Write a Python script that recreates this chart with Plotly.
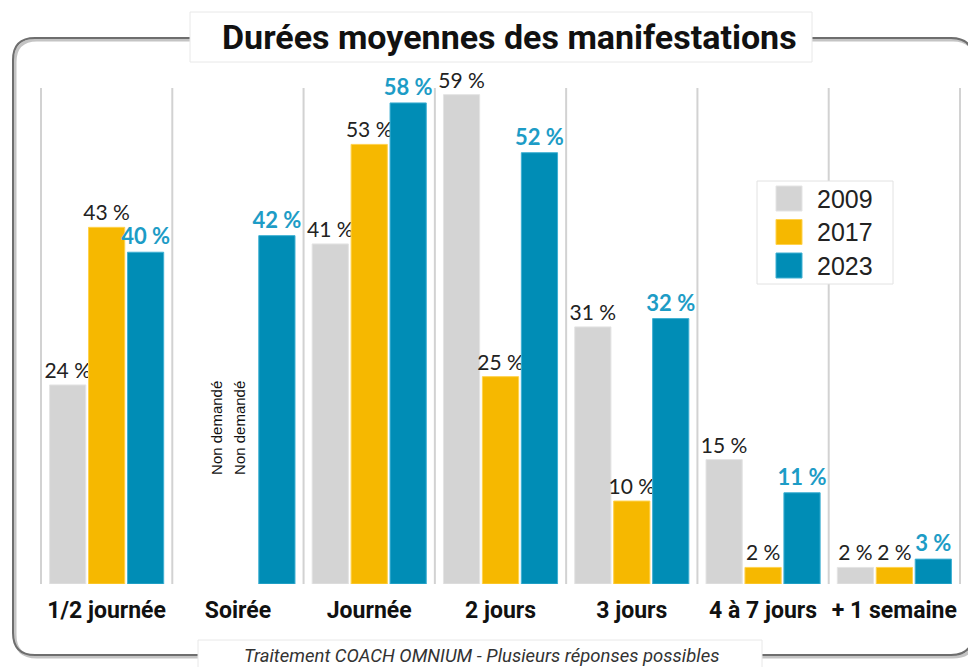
import plotly.graph_objects as go

categories = ["1/2 journée", "Soirée", "Journée", "2 jours", "3 jours", "4 à 7 jours", "+ 1 semaine"]
years = ["2009", "2017", "2023"]
v2009 = [24, None, 41, 59, 31, 15, 2]
v2017 = [43, None, 53, 25, 10, 2, 2]
v2023 = [40, 42, 58, 52, 32, 11, 3]
not_asked_label = "Non demandé"
title_text = "Durées moyennes des manifestations"
footer_text = "Traitement COACH OMNIUM - Plusieurs réponses possibles"

colors = {"2009": "#d4d4d4", "2017": "#f6b800", "2023": "#008db6"}
edge = {"2009": "#e4e4e4", "2017": "#ffd24d", "2023": "#3fb0d3"}
label_blue = "#1d9cc6"

W, H = 976, 667
OFF = 8  # page margin of the browser
# plot area in screen pixels: x 40..961, y 88..584
L, T = 40 - OFF, 88 - OFF
R = W - (961 - OFF)
B = H - (584 - OFF)
PW, PH = W - L - R, H - T - B


def px(x):
    return (x - OFF - L) / PW


def py(y):
    return (H - B - (y - OFF)) / PH


REG = "Lato, 'Open Sans', sans-serif"
COND = "Roboto, 'Liberation Sans', sans-serif"
ARIAL = "'Liberation Sans', Arial, sans-serif"

fig = go.Figure()
series = [("2009", v2009), ("2017", v2017), ("2023", v2023)]
for name, vals in series:
    txt = [None if v is None else f"{v} %" for v in vals]
    bold = name == "2023"
    fig.add_trace(go.Bar(
        name=name, x=categories, y=vals, text=txt,
        textposition="outside", cliponaxis=False, constraintext="none",
        marker=dict(color=colors[name], line=dict(color=edge[name], width=1)),
        textfont=dict(family=REG, size=22 if bold else 21,
                      color=label_blue if bold else "#222222",
                      weight=700 if bold else 400),
        showlegend=False, hoverinfo="skip",
    ))

shapes = []
for i in range(len(categories) + 1):
    shapes.append(dict(type="line", xref="x", yref="paper", x0=i - 0.5, x1=i - 0.5,
                       y0=0, y1=1, line=dict(color="#d2d2d2", width=2), layer="below"))


def rounded(x0, y0, x1, y1, r):
    pts = [
        f"M {px(x0 + r)},{py(y0)}", f"L {px(x1 - r)},{py(y0)}",
        f"Q {px(x1)},{py(y0)} {px(x1)},{py(y0 + r)}", f"L {px(x1)},{py(y1 - r)}",
        f"Q {px(x1)},{py(y1)} {px(x1 - r)},{py(y1)}", f"L {px(x0 + r)},{py(y1)}",
        f"Q {px(x0)},{py(y1)} {px(x0)},{py(y1 - r)}", f"L {px(x0)},{py(y0 + r)}",
        f"Q {px(x0)},{py(y0)} {px(x0 + r)},{py(y0)}", "Z",
    ]
    return " ".join(pts)


shapes.append(dict(type="path", xref="paper", yref="paper", path=rounded(15, 40, 975, 657, 22),
                   line=dict(color="#c4c4c4", width=3)))
shapes.append(dict(type="path", xref="paper", yref="paper", path=rounded(13, 38, 973, 655, 22),
                   line=dict(color="#6e6e6e", width=2)))
shapes.append(dict(type="rect", xref="paper", yref="paper", x0=px(190), x1=px(812), y0=py(12), y1=py(62),
                   fillcolor="white", line=dict(color="#e8e8e8", width=1)))
shapes.append(dict(type="rect", xref="paper", yref="paper", x0=px(198), x1=px(762), y0=py(640), y1=py(680),
                   fillcolor="white", line=dict(color="#e8e8e8", width=1)))
shapes.append(dict(type="rect", xref="paper", yref="paper", x0=px(757), x1=px(893), y0=py(181), y1=py(284),
                   fillcolor="white", line=dict(color="#e2e2e2", width=1)))
annotations = []
for k, name in enumerate(years):
    top = 186 + k * 33.5
    shapes.append(dict(type="rect", xref="paper", yref="paper", x0=px(776), x1=px(802),
                       y0=py(top), y1=py(top + 25), fillcolor=colors[name],
                       line=dict(color=edge[name], width=1)))
    annotations.append(dict(xref="paper", yref="paper", x=px(815), y=py(top + 12.5), text=name,
                            showarrow=False, xanchor="left", yanchor="middle",
                            font=dict(family=ARIAL, size=25, color="#222222")))

annotations.append(dict(xref="paper", yref="paper", x=px(509), y=py(37), text=f"<b>{title_text}</b>",
                        showarrow=False, xanchor="center", yanchor="middle",
                        font=dict(family=COND, size=34, color="#111111")))
annotations.append(dict(xref="paper", yref="paper", x=px(481), y=py(656), text=f"<i>{footer_text}</i>",
                        showarrow=False, xanchor="center", yanchor="middle",
                        font=dict(family=COND, size=18.5, color="#333333")))
for shift in (-22, 1):
    annotations.append(dict(xref="x", yref="y", x="Soirée", y=0, yshift=156, xshift=shift,
                            text=not_asked_label, textangle=-90, showarrow=False,
                            xanchor="center", yanchor="middle",
                            font=dict(family=ARIAL, size=15, color="#111111")))

fig.update_layout(
    width=W, height=H, margin=dict(l=L, r=R, t=T, b=B),
    paper_bgcolor="white", plot_bgcolor="white",
    barmode="group", bargap=0.11, bargroupgap=0.07,
    shapes=shapes, annotations=annotations,
    xaxis=dict(showgrid=False, zeroline=False, showline=False, ticks="",
               ticklabelstandoff=10,
               tickfont=dict(family=COND, size=23, color="#111111", weight=700)),
    yaxis=dict(range=[0, 59.8], showgrid=False, zeroline=False, showline=False,
               showticklabels=False, fixedrange=True),
)
fig.write_html("out.html")
